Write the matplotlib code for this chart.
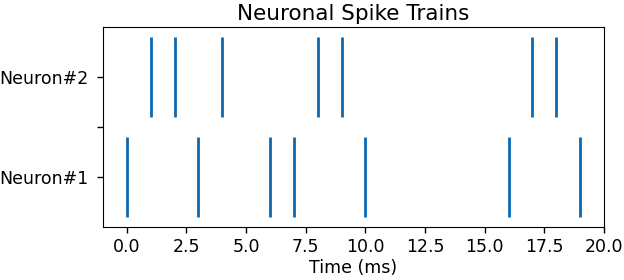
import matplotlib
matplotlib.use("Agg")
import matplotlib.pyplot as plt

# spike times (ms) per neuron
neuron_labels = ['Neuron#1', 'Neuron#2']
spikes_n1 = [0, 3, 6, 7, 10, 16, 19]
spikes_n2 = [1, 2, 4, 8, 9, 17, 18]

plt.rcParams['font.size'] = 12.5

fig, ax = plt.subplots(figsize=(6.24, 2.8), dpi=100)
fig.subplots_adjust(left=0.165, right=0.968, bottom=0.189, top=0.904)

ax.eventplot([spikes_n1, spikes_n2], lineoffsets=[0, 1], linelengths=0.8,
             colors='#0a6ab6', linewidths=2)

ax.set_xlim(-1, 20)
ax.set_ylim(-0.5, 1.5)
ax.set_yticks([0, 0.5, 1])
ax.set_yticklabels([neuron_labels[0], '', neuron_labels[1]])
ax.tick_params(length=4.5, width=1)
ax.tick_params(axis='y', pad=6)
ax.set_xlabel('Time (ms)', labelpad=2)
ax.set_title('Neuronal Spike Trains', fontsize=15.5, pad=5)

fig.savefig('out.png')
